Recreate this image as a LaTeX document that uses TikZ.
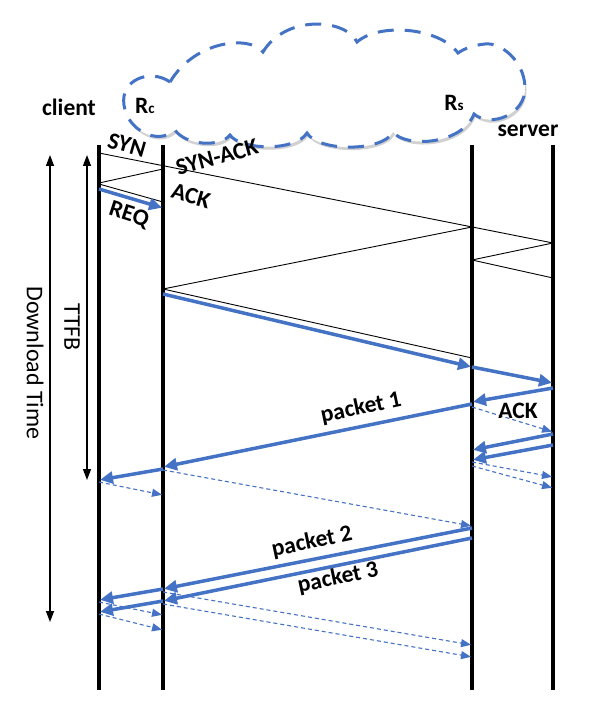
\documentclass[tikz,border=0pt]{standalone}
\usepackage{fontspec}
\setmainfont{Carlito}
\usetikzlibrary{arrows.meta,shadows}
\definecolor{oblue}{HTML}{4472C4}
\begin{document}
\begin{tikzpicture}[x=1pt,y=-1pt,
  life/.style={line width=4pt},
  sigline/.style={line width=0.9pt},
  pkt/.style={draw=oblue,line width=3.5pt,shorten >=1pt,-{Triangle[length=13pt,width=12pt]}},
  ackd/.style={draw=oblue,line width=1.1pt,dash pattern=on 4pt off 3pt,shorten >=1pt,-{Triangle[length=10pt,width=8pt]}},
  spanarrow/.style={line width=1.4pt,{Triangle[length=11pt,width=8pt]}-{Triangle[length=11pt,width=8pt]}},
  lbl/.style={font=\fontsize{23.5}{25}\selectfont\bfseries,inner sep=0pt},
  vlbl/.style={font=\fontsize{24}{26}\selectfont,inner sep=0pt,rotate=-90},
  cloudline/.style={draw=oblue,line width=3pt,dash pattern=on 16pt off 11pt,fill=white,
    drop shadow={shadow xshift=1.5pt,shadow yshift=-3pt,opacity=0.3,fill=black!60}}
]
\useasboundingbox (0,0) rectangle (591,714);

% lifelines
\coordinate (cT) at (99,145);  \coordinate (cB) at (99,690);
\coordinate (rT) at (163,145); \coordinate (rB) at (163,690);
\coordinate (sT) at (472,145); \coordinate (sB) at (472,690);
\coordinate (vT) at (553,145); \coordinate (vB) at (553,690);
\draw[life] (cT) -- (cB);
\draw[life] (rT) -- (rB);
\draw[life] (sT) -- (sB);
\draw[life] (vT) -- (vB);

% cloud
\path[cloudline] (170,82) .. controls (150,68) and (120,80) .. (124,105)
 .. controls (127,130) and (158,146) .. (175,130)
 .. controls (185,145) and (220,148) .. (230,135)
 .. controls (240,150) and (295,152) .. (307,133)
 .. controls (318,152) and (383,152) .. (393,132)
 .. controls (405,148) and (462,145) .. (474,114)
 .. controls (490,128) and (526,115) .. (525,87)
 .. controls (524,60) and (500,42) .. (485,44)
 .. controls (475,45) and (465,48) .. (458,53)
 .. controls (440,28) and (380,22) .. (357,42)
 .. controls (345,18) and (285,15) .. (263,52)
 .. controls (250,35) and (195,40) .. (170,82) -- cycle;

% entity labels
\node[lbl] (client) at (69,107) {client};
\node[lbl] (rc) at (145,106) {R{\fontsize{15}{15}\selectfont c}};
\node[lbl] (rs) at (454,103) {R{\fontsize{15}{15}\selectfont s}};
\node[lbl] (server) at (528,131) {server};

% time spans
\coordinate (dtT) at (50,155); \coordinate (dtB) at (50,622);
\coordinate (tfT) at (87,155); \coordinate (tfB) at (87,480);
\draw[spanarrow] (dtT) -- (dtB);
\draw[spanarrow] (tfT) -- (tfB);
\node[vlbl] (dtl) at (35,363) {Download Time};
\node[vlbl] (tfl) at (72,327) {TTFB};

% handshake (thin black)
\coordinate (c153) at (99,153);  \coordinate (v243) at (553,243);
\coordinate (r169) at (163,169); \coordinate (c183) at (99,183);
\coordinate (c184) at (99,184);  \coordinate (r202) at (163,202);
\coordinate (s227) at (472,227); \coordinate (r289) at (163,289);
\coordinate (s358) at (472,358);
\coordinate (s260) at (472,260); \coordinate (v278) at (553,278);
\draw[sigline] (c153) -- (v243);
\draw[sigline] (r169) -- (c183);
\draw[sigline] (c184) -- (r202);
\draw[sigline] (s227) -- (r289);
\draw[sigline] (r289) -- (s358);
\draw[sigline] (v243) -- (s260);
\draw[sigline] (s260) -- (v278);

% request and packets (thick blue)
\coordinate (c189) at (99,189);  \coordinate (r208) at (163,208);
\coordinate (r294) at (163,294); \coordinate (s367) at (472,367);
\coordinate (v383) at (553,383);
\coordinate (v388) at (553,388); \coordinate (s402) at (472,402);
\coordinate (s404) at (472,404); \coordinate (r467) at (163,467);
\coordinate (r469) at (163,469); \coordinate (c480) at (99,480);
\coordinate (v434) at (553,434); \coordinate (s450) at (472,450);
\coordinate (v445) at (553,445); \coordinate (s460) at (472,460);
\coordinate (s528) at (472,528); \coordinate (r589) at (163,589);
\coordinate (s538) at (472,538); \coordinate (r601) at (163,601);
\coordinate (c600) at (99,600);  \coordinate (c612) at (99,612);
\draw[pkt] (c189) -- (r208);
\draw[pkt] (r294) -- (s367);
\draw[pkt] (s367) -- (v383);
\draw[pkt] (v388) -- (s402);
\draw[pkt] (s404) -- (r467);
\draw[pkt] (r469) -- (c480);
\draw[pkt] (v434) -- (s450);
\draw[pkt] (v445) -- (s460);
\draw[pkt] (s528) -- (r589);
\draw[pkt] (s538) -- (r601);
\draw[pkt] (r589) -- (c600);
\draw[pkt] (r601) -- (c612);

% acks (dashed blue)
\coordinate (c482) at (99,482);  \coordinate (r495) at (163,495);
\coordinate (r470) at (163,470); \coordinate (s526) at (472,526);
\coordinate (s407) at (472,407); \coordinate (v432) at (553,432);
\coordinate (s462) at (472,462); \coordinate (v477) at (553,477);
\coordinate (s466) at (472,466); \coordinate (v488) at (553,488);
\coordinate (c602) at (99,602);  \coordinate (r615) at (163,615);
\coordinate (c614) at (99,614);  \coordinate (r630) at (163,630);
\coordinate (r592) at (163,592); \coordinate (s645) at (472,645);
\coordinate (r604) at (163,604); \coordinate (s657) at (472,657);
\draw[ackd] (c482) -- (r495);
\draw[ackd] (r470) -- (s526);
\draw[ackd] (s407) -- (v432);
\draw[ackd] (s462) -- (v477);
\draw[ackd] (s466) -- (v488);
\draw[ackd] (c602) -- (r615);
\draw[ackd] (c614) -- (r630);
\draw[ackd] (r592) -- (s645);
\draw[ackd] (r604) -- (s657);

% message labels
\node[lbl,rotate=-16] (syn) at (127,145) {SYN};
\node[lbl,rotate=15] (synack) at (217,157) {SYN-ACK};
\node[lbl,rotate=-16] (ack1) at (191,196) {ACK};
\node[lbl,rotate=-18] (req) at (129,215) {REQ};
\node[lbl,rotate=12] (p1) at (361,408) {packet 1};
\node[lbl] (ack2) at (518,411) {ACK};
\node[lbl,rotate=12] (p2) at (312,542) {packet 2};
\node[lbl,rotate=12] (p3) at (338,578) {packet 3};
\end{tikzpicture}
\end{document}
